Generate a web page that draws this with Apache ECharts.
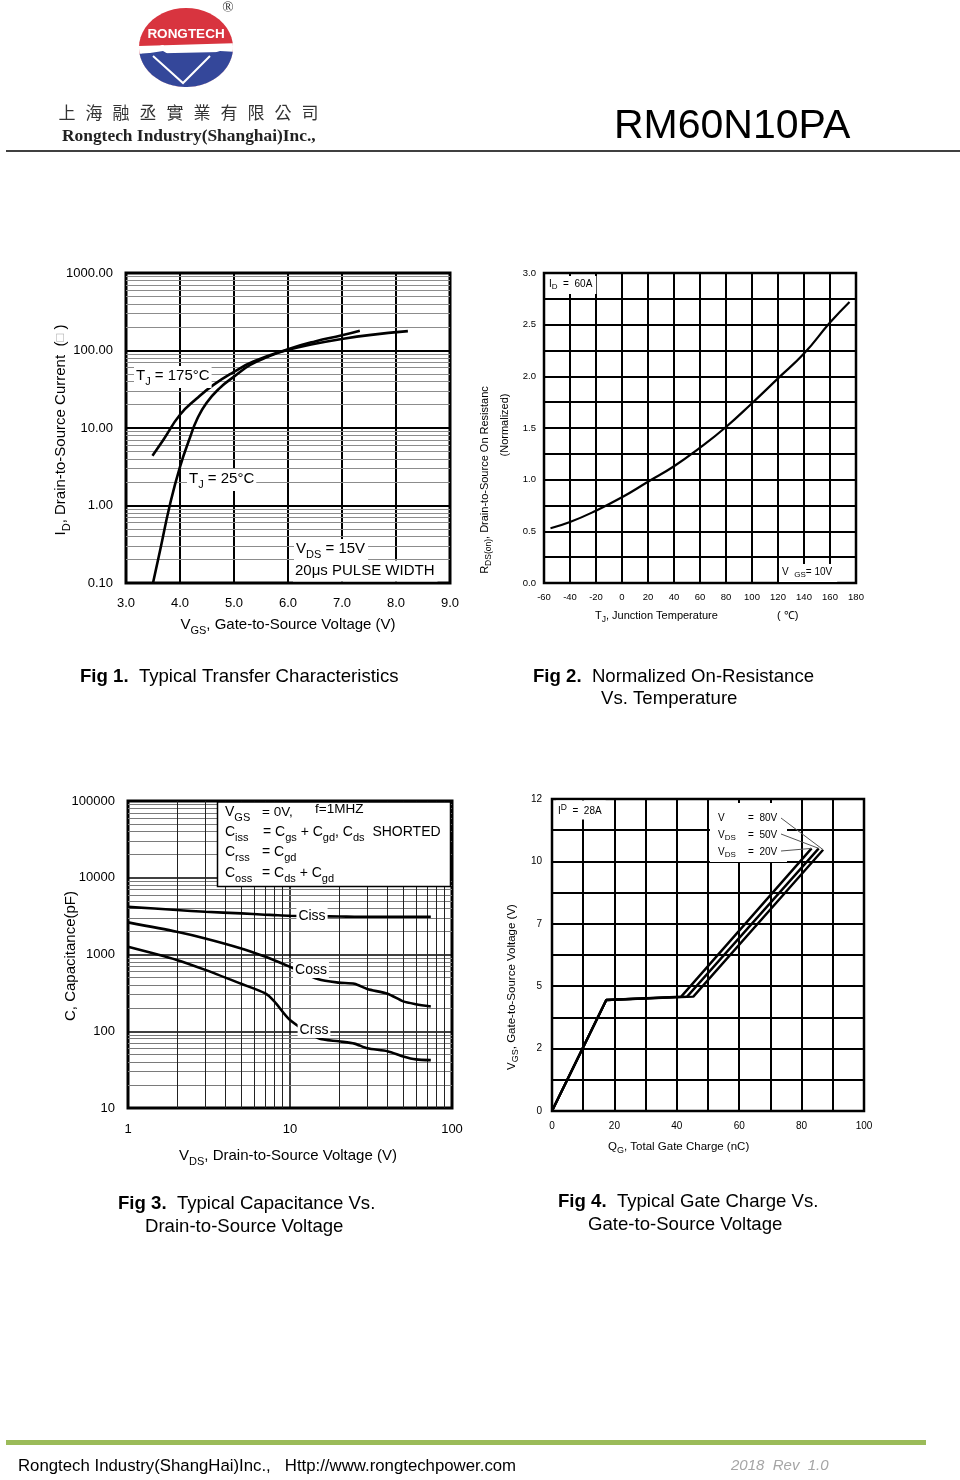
<!DOCTYPE html>
<html><head><meta charset="utf-8">
<script src="https://cdn.jsdelivr.net/npm/echarts@6/dist/echarts.min.js"></script>
<style>html,body{margin:0;padding:0;background:#fff}#c{width:960px;height:1480px}</style>
</head><body><div id="c"></div><script>
// ---------- Fig 1: Typical transfer characteristics ----------
const vgs175 = [3.49, 3.69, 4.0, 4.31, 4.62, 5.0, 5.36, 6.0, 6.5, 7.0, 7.33];
const id175  = [4.4, 7.0, 14.8, 24, 36, 53, 72, 104, 131, 157, 180];
const vgs25  = [3.5, 3.63, 3.81, 4.0, 4.19, 4.31, 4.49, 4.74, 5.0, 5.3, 5.63, 6.0, 6.5, 7.0, 7.5, 8.22];
const id25   = [0.1, 0.26, 1.0, 3.16, 7.7, 12.7, 21, 33, 46, 65, 83, 102, 122, 141, 158, 178];
// ---------- Fig 2: Normalized on-resistance vs temperature ----------
const tjC     = [-55, -40, -20, 0, 20, 40, 60, 80, 100, 120, 140, 160, 175];
const rdsNorm = [0.53, 0.59, 0.70, 0.83, 0.98, 1.13, 1.31, 1.51, 1.74, 1.98, 2.22, 2.52, 2.72];
// ---------- Fig 3: Capacitance vs VDS ----------
const vdsCap = [1, 2, 3, 5, 7, 8, 10, 15, 20, 25, 30, 40, 50, 60, 74];
const ciss   = [4170, 3800, 3600, 3430, 3300, 3260, 3200, 3150, 3120, 3110, 3100, 3100, 3100, 3100, 3100];
const coss   = [2620, 1980, 1620, 1200, 940, 840, 690, 475, 430, 415, 355, 308, 245, 225, 210];
const crss   = [1260, 850, 630, 415, 313, 245, 140, 81, 74, 69, 60, 55, 47, 43, 42];
// ---------- Fig 4: Gate charge ----------
const qg20 = [0, 17.4, 41.4, 83.2], vg20 = [0, 4.27, 4.40, 10.1];
const qg50 = [0, 17.4, 43.3, 85.5], vg50 = [0, 4.27, 4.40, 10.1];
const qg80 = [0, 17.4, 45.3, 86.9], vg80 = [0, 4.27, 4.40, 10.05];

const FF = '"Liberation Sans", Arial, Helvetica, sans-serif';
const pairs = (xs, ys) => xs.map((x, i) => [x, ys[i]]);
function minorLog(lo, hi) {
  const out = [];
  for (let e = Math.floor(Math.log10(lo)); e < Math.ceil(Math.log10(hi)); e++)
    for (let m = 2; m <= 9; m++) { const v = m * Math.pow(10, e); if (v > lo && v < hi) out.push(+v.toPrecision(6)); }
  return out;
}
const mk = (data, color, width) => ({ silent: true, z: 1, symbol: ['none', 'none'], label: { show: false },
  emphasis: { disabled: true }, animation: false, lineStyle: { color, width, type: 'solid' }, data });

function subRich(fs, ss, shift, color) {
  color = color || '#000';
  return {
    n: { fontSize: fs, lineHeight: fs, verticalAlign: 'top', fontFamily: FF, fill: color, color },
    s: { fontSize: ss, lineHeight: ss + shift, verticalAlign: 'bottom', padding: [shift, 0, 0, 0], fontFamily: FF, fill: color, color },
    g: { fontSize: fs - 2, lineHeight: fs, verticalAlign: 'top', fontFamily: FF, fill: '#a8a8a8', color: '#a8a8a8' }
  };
}
function T(x, y, text, o) {
  o = o || {};
  const st = { text, fill: o.color || '#000', fontSize: o.fs || 13, fontFamily: o.ff || FF,
    fontWeight: o.fw || 'normal', fontStyle: o.fst || 'normal',
    align: o.align || 'left', textAlign: o.align || 'left',
    verticalAlign: o.va || 'middle', textVerticalAlign: o.va || 'middle' };
  if (o.rich) st.rich = o.rich;
  if (o.bg) { st.backgroundColor = o.bg; st.padding = o.pad || [2, 3, 2, 3]; }
  return { type: 'text', x, y, z: o.z || 100, rotation: o.rot || 0, scaleX: o.sx || 1, silent: true, style: st };
}

const grids = [
  { left: 126, top: 273, width: 324, height: 310 },
  { left: 544, top: 273, width: 312, height: 310 },
  { left: 128, top: 801, width: 324, height: 307 },
  { left: 552, top: 799, width: 312, height: 312 }
].map((g, i) => Object.assign(g, { show: true, borderColor: '#000', borderWidth: i % 2 ? 2.5 : 3, backgroundColor: 'transparent', containLabel: false }));

const lbl = (fs, margin, fmt) => ({ show: true, fontSize: fs, fontFamily: FF, color: '#000', margin, formatter: fmt, showMinLabel: true, showMaxLabel: true, hideOverlap: false });
const spl = (w, c) => ({ show: true, lineStyle: { color: c || '#000', width: w, type: 'solid' } });
const noLine = { show: false }, noTick = { show: false };

const xAxis = [
  { type: 'value', gridIndex: 0, min: 3, max: 9, interval: 1, axisLine: noLine, axisTick: noTick, splitLine: spl(2), axisLabel: lbl(13, 14, v => v.toFixed(1)) },
  { type: 'value', gridIndex: 1, min: -60, max: 180, interval: 20, axisLine: noLine, axisTick: noTick, splitLine: spl(2), axisLabel: lbl(9.5, 9, v => String(Math.round(v))) },
  { type: 'log', logBase: 10, gridIndex: 2, min: 1, max: 100, axisLine: noLine, axisTick: noTick, splitLine: spl(1.5), axisLabel: lbl(13, 15, v => String(Math.round(v))) },
  { type: 'value', gridIndex: 3, min: 0, max: 100, interval: 10, axisLine: noLine, axisTick: noTick, splitLine: spl(2), axisLabel: lbl(10, 10, v => (Math.round(v) % 20 === 0 ? String(Math.round(v)) : '')) }
];
const yAxis = [
  { type: 'log', logBase: 10, gridIndex: 0, min: 0.1, max: 1000, axisLine: noLine, axisTick: noTick, splitLine: spl(2), axisLabel: lbl(13, 13, v => v.toFixed(2)) },
  { type: 'value', gridIndex: 1, min: 0, max: 3, interval: 0.25, axisLine: noLine, axisTick: noTick, splitLine: spl(2), axisLabel: lbl(9.5, 8, v => (Math.round(v / 0.25) % 2 === 0 ? v.toFixed(1) : '')) },
  { type: 'log', logBase: 10, gridIndex: 2, min: 10, max: 100000, axisLine: noLine, axisTick: noTick, splitLine: spl(1.5), axisLabel: lbl(13, 13, v => String(Math.round(v))) },
  { type: 'value', gridIndex: 3, min: 0, max: 12, interval: 1.2, axisLine: noLine, axisTick: noTick, splitLine: spl(2), axisLabel: lbl(10, 10, v => (Math.round(v / 1.2) % 2 === 0 ? String(Math.round(v)) : '')) }
];

const curve = (gi, data, w, smooth) => ({ type: 'line', xAxisIndex: gi, yAxisIndex: gi, data, smooth: smooth,
  showSymbol: false, symbol: 'none', silent: true, z: 3, lineStyle: { color: '#000', width: w }, emphasis: { disabled: true } });
const helper = (gi, markData, color, w) => ({ type: 'line', xAxisIndex: gi, yAxisIndex: gi, data: [], silent: true, z: 1, markLine: mk(markData, color, w) });

const series = [
  helper(0, minorLog(0.1, 1000).map(v => ({ yAxis: v })), '#8c8c8c', 1),
  curve(0, pairs(vgs175, id175), 2.6, 0.5),
  curve(0, pairs(vgs25, id25), 2.6, 0.5),
  curve(1, pairs(tjC, rdsNorm), 2.2, 0.5),
  helper(2, minorLog(10, 100000).map(v => ({ yAxis: v })), '#7a7a7a', 1),
  helper(2, minorLog(1, 100).map(v => ({ xAxis: v })), '#222', 1),
  curve(2, pairs(vdsCap, ciss), 2.6, 0.25),
  curve(2, pairs(vdsCap, coss), 2.6, 0.25),
  curve(2, pairs(vdsCap, crss), 2.6, 0.25),
  curve(3, pairs(qg20, vg20), 2.4, false),
  curve(3, pairs(qg50, vg50), 2.4, false),
  curve(3, pairs(qg80, vg80), 2.4, false)
];

// ---------- page decoration ----------
function logo() {
  const cx = 186, cy = 47.5, rx = 47, ry = 39.5, els = [];
  const ell = (a) => [cx + rx * Math.cos(a * Math.PI / 180), cy + ry * Math.sin(a * Math.PI / 180)];
  const arc = (a0, a1) => { const p = []; const n = 48; for (let i = 0; i <= n; i++) p.push(ell(a0 + (a1 - a0) * i / n)); return p; };
  els.push({ type: 'polygon', z: 10, silent: true, shape: { points: arc(0, 360) }, style: { fill: '#d8343f' } });
  const wTop = [ell(182), [150, 47], [163, 45], [175, 52], [183, 59], [195, 54], [207, 48], [220, 44], ell(-6)];
  els.push({ type: 'polygon', z: 11, silent: true, shape: { points: wTop.concat(arc(-6, 182).reverse()) }, style: { fill: '#fff' } });
  const bTop = [ell(171), [150, 53], [163, 51], [175, 58], [183, 65], [195, 60], [207, 55], [220, 51], ell(6)];
  els.push({ type: 'polygon', z: 12, silent: true, shape: { points: bTop.concat(arc(6, 171).reverse()) }, style: { fill: '#34479a' } });
  els.push({ type: 'polyline', z: 13, silent: true, shape: { points: [[153, 56], [183, 83], [210, 56]] }, style: { stroke: '#fff', lineWidth: 2, fill: null } });
  els.push(T(186, 34, 'RONGTECH', { fs: 13.5, fw: 'bold', color: '#fff', align: 'center', z: 14 }));
  els.push(T(228, 8, '®', { fs: 15, ff: '"Liberation Serif", serif', color: '#333', align: 'center', z: 14 }));
  return els;
}
const cn = '上海融丞實業有限公司';
const cnEls = cn.split('').map((ch, i) => T(67 + i * 27, 113, ch, { fs: 17, ff: '"Noto Sans CJK TC", "Noto Sans CJK SC", sans-serif', color: '#333', align: 'center' }));

const r15 = subRich(15, 11, 8), r11 = subRich(11, 8.5, 5), r13 = subRich(14, 11, 7);
const capRich = { b: { fontWeight: 'bold', fontSize: 18.6, fontFamily: FF } };
const graphic = [].concat(logo(), cnEls, [
  T(62, 137, 'Rongtech Industry(Shanghai)Inc.,', { fs: 17.4, fw: 'bold', ff: '"Liberation Serif", "Times New Roman", serif', color: '#222' }),
  T(614, 127, 'RM60N10PA', { fs: 41, color: '#000' }),
  { type: 'line', z: 10, silent: true, shape: { x1: 6, y1: 151, x2: 960, y2: 151 }, style: { stroke: '#000', lineWidth: 1.5 } },
  // Fig 1 texts
  T(288, 627, '{n|V}{s|GS}{n|, Gate-to-Source Voltage (V)}', { align: 'center', rich: r15 }),
  T(63, 430, '{n|I}{s|D}{n|, Drain-to-Source Current  (}{g|□}{n| )}', { align: 'center', rot: Math.PI / 2, rich: r15 }),
  T(134, 377, '{n|T}{s|J}{n| = 175°C}', { rich: r15, bg: '#fff', pad: [2, 2, 1, 2] }),
  T(187, 480, '{n|T}{s|J}{n| = 25°C}', { rich: r15, bg: '#fff', pad: [2, 2, 1, 2] }),
  T(294, 550, '{n|V}{s|DS}{n| = 15V}', { rich: r15, bg: '#fff', pad: [2, 3, 1, 2] }),
  T(293, 571, '20μs PULSE WIDTH', { fs: 15, bg: '#fff', pad: [3, 3, 3, 2] }),
  T(80, 677, '{b|Fig 1.}  Typical Transfer Characteristics', { fs: 18.6, rich: capRich }),
  // Fig 2 texts
  T(547, 285, '{n|I}{s|D}{n|  =  60A}', { rich: subRich(10, 8, 4), bg: '#fff', pad: [3, 4, 3, 2] }),
  T(779, 573, '{n|V  }{s|GS}{n|= 10V}', { rich: subRich(10, 8, 4), bg: '#fff', pad: [3, 5, 3, 3] }),
  T(595, 617, '{n|T}{s|J}{n|, Junction Temperature}', { rich: r11 }),
  T(777, 616, '( ℃)', { fs: 11 }),
  T(486, 480, '{n|R}{s|DS(on)}{n|, Drain-to-Source On Resistanc}', { align: 'center', rot: Math.PI / 2, rich: r11 }),
  T(505, 425, '(Normalized)', { fs: 11, align: 'center', rot: Math.PI / 2 }),
  T(533, 677, '{b|Fig 2.}  Normalized On-Resistance', { fs: 18.6, rich: capRich }),
  T(601, 699, 'Vs. Temperature', { fs: 18.6 }),
  // Fig 3 texts
  { type: 'rect', z: 50, silent: true, shape: { x: 217.5, y: 802, width: 233, height: 84.5 }, style: { fill: '#fff', stroke: '#000', lineWidth: 1.5 } },
  T(225, 814, '{n|V}{s|GS}', { rich: r13 }), T(262, 812, '= 0V,', { fs: 13.5 }), T(315, 809, 'f=1MHZ', { fs: 13.5 }),
  T(225, 834, '{n|C}{s|iss}', { rich: r13 }),
  T(263, 834, '{n|= C}{s|gs}{n| + C}{s|gd}{n|, C}{s|ds}{n|  SHORTED}', { rich: r13 }),
  T(225, 854, '{n|C}{s|rss}', { rich: r13 }), T(262, 854, '{n|= C}{s|gd}', { rich: r13 }),
  T(225, 875, '{n|C}{s|oss}', { rich: r13 }), T(262, 875, '{n|= C}{s|ds}{n| + C}{s|gd}', { rich: r13 }),
  T(312, 916, 'Ciss', { fs: 14, align: 'center', bg: '#fff', pad: [1, 2, 1, 2] }),
  T(311, 970, 'Coss', { fs: 14, align: 'center', bg: '#fff', pad: [1, 2, 1, 2] }),
  T(314, 1030, 'Crss', { fs: 14, align: 'center', bg: '#fff', pad: [1, 2, 1, 2] }),
  T(288, 1158, '{n|V}{s|DS}{n|, Drain-to-Source Voltage (V)}', { align: 'center', rich: r15 }),
  T(71, 956, 'C, Capacitance(pF)', { fs: 15, align: 'center', rot: Math.PI / 2 }),
  T(118, 1204, '{b|Fig 3.}  Typical Capacitance Vs.', { fs: 18.6, rich: capRich }),
  T(145, 1227, 'Drain-to-Source Voltage', { fs: 18.6 }),
  // Fig 4 texts
  T(556, 810, '{p|I}{q|D}{p|  =  28A}', { bg: '#fff', pad: [3, 4, 3, 2], rich: {
      p: { fontSize: 10, lineHeight: 13, verticalAlign: 'bottom', padding: [3, 0, 0, 0], fontFamily: FF },
      q: { fontSize: 8.5, lineHeight: 8.5, verticalAlign: 'top', fontFamily: FF } } }),
  { type: 'rect', z: 50, silent: true, shape: { x: 710, y: 803, width: 77, height: 59 }, style: { fill: '#fff' } },
  T(718, 818, 'V', { fs: 10 }), T(748, 818, '=  80V', { fs: 10 }),
  T(718, 836, '{n|V}{s|DS}', { rich: subRich(10, 8, 4) }), T(748, 835, '=  50V', { fs: 10 }),
  T(718, 853, '{n|V}{s|DS}', { rich: subRich(10, 8, 4) }), T(748, 852, '=  20V', { fs: 10 }),
  T(608, 1148, '{n|Q}{s|G}{n|, Total Gate Charge (nC)}', { rich: subRich(11.5, 9, 5) }),
  T(513, 987, '{n|V}{s|GS}{n|, Gate-to-Source Voltage (V)}', { align: 'center', rot: Math.PI / 2, rich: subRich(11.5, 9, 5) }),
  T(558, 1202, '{b|Fig 4.}  Typical Gate Charge Vs.', { fs: 18.6, rich: capRich }),
  T(588, 1225, 'Gate-to-Source Voltage', { fs: 18.6 }),
  // footer
  { type: 'rect', z: 10, silent: true, shape: { x: 6, y: 1440, width: 920, height: 5 }, style: { fill: '#9bbb59' } },
  T(18, 1466, 'Rongtech Industry(ShangHai)Inc.,   Http://www.rongtechpower.com', { fs: 16.8 }),
  T(731, 1466, '2018  Rev  1.0', { fs: 15, fst: 'italic', color: '#a6a6a6' })
]);

const chart = echarts.init(document.getElementById('c'), null, { renderer: 'canvas', width: 960, height: 1480 });
const option = { animation: false, backgroundColor: '#fff', grid: grids, xAxis, yAxis, series, graphic: { elements: graphic } };
chart.setOption(option);

// leader lines from the Fig 4 legend to the curve ends (positions from the library's own scales)
const ends = [[qg80, vg80, 818], [qg50, vg50, 834], [qg20, vg20, 851]].map(([q, v, ly]) => {
  const p = chart.convertToPixel({ xAxisIndex: 3, yAxisIndex: 3 }, [q[q.length - 1], v[v.length - 1]]);
  return { type: 'line', z: 101, silent: true, shape: { x1: 781, y1: ly, x2: p[0], y2: p[1] }, style: { stroke: '#555', lineWidth: 1 } };
});
chart.setOption({ graphic: { elements: graphic.concat(ends) } });
</script></body></html>
